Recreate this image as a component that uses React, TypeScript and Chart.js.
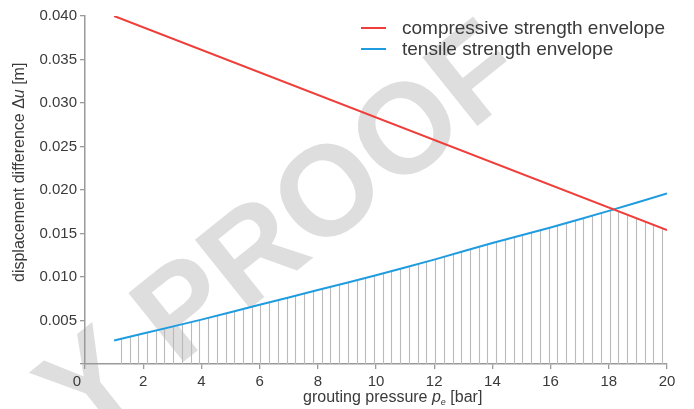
import React, { useEffect, useRef } from "react";
import { Chart, registerables } from "chart.js";

Chart.register(...registerables);

// ---- data ----
const compressiveX = [1, 20];
const compressiveY = [0.04, 0.0154];
const tensileX = [1, 2, 4, 6, 8, 10, 12, 14, 16, 18, 20];
const tensileY = [0.0027, 0.0035, 0.0051, 0.0068, 0.0085, 0.0102, 0.012, 0.0139, 0.0157, 0.0176, 0.0196];
const seriesLabels = ["compressive strength envelope", "tensile strength envelope"];
const seriesColors = ["#ef3e3a", "#1f9ce0"];
const xTickValues = [0, 2, 4, 6, 8, 10, 12, 14, 16, 18, 20];
const yTickLabels = ["0.005", "0.010", "0.015", "0.020", "0.025", "0.030", "0.035", "0.040"];
const hatchStart = 1.23;
const hatchStep = 0.3;
const watermarkText = "Y PROOF";

const FONT = '"Liberation Sans", Arial, Helvetica, sans-serif';
const TEXT = "#3a3a3a";
const AXIS = "#9a9a9a";

const customPlugin = {
  id: "customDraw",
  beforeDraw(chart: any) {
    const ctx = chart.ctx;
    ctx.save();
    ctx.translate(285, 235);
    ctx.rotate((-38.7 * Math.PI) / 180);
    ctx.font = `bold 128px ${FONT}`;
    ctx.fillStyle = "#dedede";
    ctx.textAlign = "center";
    ctx.textBaseline = "middle";
    ctx.fillText(watermarkText, 0, 0);
    ctx.restore();
  },
  beforeDatasetsDraw(chart: any) {
    const ctx = chart.ctx;
    const ca = chart.chartArea;
    const xs = chart.scales.x;
    const ys = chart.scales.y;
    ctx.save();
    ctx.beginPath();
    ctx.rect(ca.left, ca.top, ca.right - ca.left, ca.bottom - ca.top);
    ctx.clip();
    chart.data.datasets.forEach((ds: any) => {
      const pts = ds.data;
      ctx.beginPath();
      ctx.moveTo(xs.getPixelForValue(pts[0].x), ca.bottom);
      pts.forEach((p: any) => ctx.lineTo(xs.getPixelForValue(p.x), ys.getPixelForValue(p.y)));
      ctx.lineTo(xs.getPixelForValue(pts[pts.length - 1].x), ca.bottom);
      ctx.closePath();
      ctx.clip();
    });
    ctx.strokeStyle = "#bababa";
    ctx.lineWidth = 1.1;
    for (let v = hatchStart; v <= 20; v += hatchStep) {
      const px = Math.round(xs.getPixelForValue(v)) + 0.5;
      ctx.beginPath();
      ctx.moveTo(px, ca.bottom);
      ctx.lineTo(px, ca.top);
      ctx.stroke();
    }
    ctx.restore();
  },
  afterDraw(chart: any) {
    const ctx = chart.ctx;
    const xs = chart.scales.x;
    ctx.save();
    // legend
    ctx.font = `19px ${FONT}`;
    ctx.textAlign = "left";
    ctx.textBaseline = "alphabetic";
    const rows = [28, 49];
    chart.data.datasets.forEach((ds: any, i: number) => {
      ctx.strokeStyle = ds.borderColor;
      ctx.lineWidth = 2;
      ctx.beginPath();
      ctx.moveTo(361, rows[i]);
      ctx.lineTo(386, rows[i]);
      ctx.stroke();
      ctx.fillStyle = TEXT;
      ctx.fillText(ds.label, 402, rows[i] + 6);
    });
    // "0" origin label
    ctx.font = `15px ${FONT}`;
    ctx.textAlign = "center";
    ctx.textBaseline = "top";
    ctx.fillStyle = TEXT;
    ctx.fillText("0", xs.getPixelForValue(0) - 8, 374);
    // x title
    ctx.textAlign = "left";
    ctx.textBaseline = "alphabetic";
    let x = 303;
    const yb = 402;
    ctx.font = `16px ${FONT}`;
    ctx.fillText("grouting pressure ", x, yb);
    x += ctx.measureText("grouting pressure ").width;
    ctx.font = `italic 16px ${FONT}`;
    ctx.fillText("p", x, yb);
    x += ctx.measureText("p").width;
    ctx.font = `italic 9px ${FONT}`;
    ctx.fillText("e", x, yb + 3);
    x += ctx.measureText("e").width;
    ctx.font = `16px ${FONT}`;
    ctx.fillText(" [bar]", x, yb);
    // y title
    ctx.translate(24, 282);
    ctx.rotate(-Math.PI / 2);
    let yx = 0;
    ctx.font = `16px ${FONT}`;
    ctx.fillText("displacement difference \u0394", yx, 0);
    yx += ctx.measureText("displacement difference \u0394").width;
    ctx.font = `italic 16px ${FONT}`;
    ctx.fillText("u", yx, 0);
    yx += ctx.measureText("u").width;
    ctx.font = `16px ${FONT}`;
    ctx.fillText(" [m]", yx, 0);
    ctx.restore();
  },
};

export default function App() {
  const ref = useRef<HTMLCanvasElement | null>(null);
  useEffect(() => {
    if (!ref.current) return;
    const chart = new Chart(ref.current, {
      type: "line",
      data: {
        datasets: [
          {
            label: seriesLabels[0],
            data: compressiveX.map((x, i) => ({ x, y: compressiveY[i] })),
            borderColor: seriesColors[0],
            borderWidth: 2,
            pointRadius: 0,
            fill: false,
          },
          {
            label: seriesLabels[1],
            data: tensileX.map((x, i) => ({ x, y: tensileY[i] })),
            borderColor: seriesColors[1],
            borderWidth: 2,
            pointRadius: 0,
            tension: 0.2,
            fill: false,
          },
        ],
      },
      options: {
        animation: false,
        responsive: false,
        layout: { padding: { left: 0, right: 27, top: 16, bottom: 0 } },
        plugins: { legend: { display: false }, tooltip: { enabled: false } },
        scales: {
          x: {
            type: "linear",
            min: 0,
            max: 20,
            afterFit: (s: any) => {
              s.height = 45;
            },
            afterBuildTicks: (s: any) => {
              s.ticks = xTickValues.map((v) => ({ value: v }));
            },
            ticks: {
              font: { size: 15, family: FONT },
              color: TEXT,
              padding: 4,
              maxRotation: 0,
              callback: (v: any) => (Number(v) === 0 ? "" : String(v)),
            },
            grid: { drawOnChartArea: false, drawTicks: true, tickLength: 5, color: AXIS, lineWidth: 1.3 },
            border: { display: true, color: AXIS, width: 1.5 },
          },
          y: {
            type: "linear",
            min: 0,
            max: 0.04,
            afterFit: (s: any) => {
              s.width = 85;
            },
            ticks: {
              stepSize: 0.005,
              font: { size: 15, family: FONT },
              color: TEXT,
              padding: 3,
              callback: (v: any) => {
                const idx = Math.round(Number(v) / 0.005) - 1;
                return idx >= 0 && idx < yTickLabels.length ? yTickLabels[idx] : "";
              },
            },
            grid: { drawOnChartArea: false, drawTicks: true, tickLength: 5, color: AXIS, lineWidth: 1.3 },
            border: { display: true, color: AXIS, width: 1.5 },
          },
        },
      },
      plugins: [customPlugin],
    });
    return () => chart.destroy();
  }, []);
  return (
    <div style={{ position: "fixed", left: 0, top: 0, width: 694, height: 409, background: "#fff" }}>
      <canvas ref={ref} width={694} height={409} style={{ width: 694, height: 409, display: "block" }} />
    </div>
  );
}
